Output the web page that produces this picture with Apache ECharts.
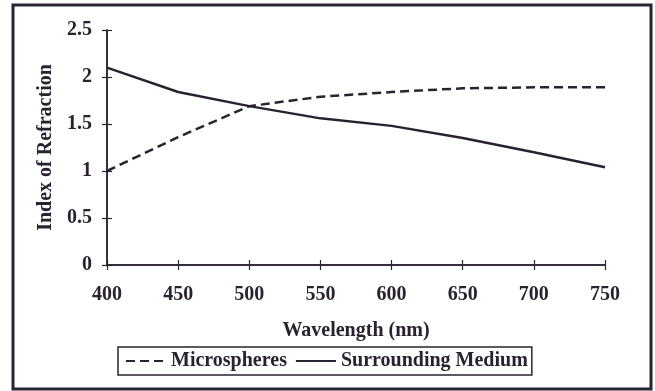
<!DOCTYPE html>
<html lang="en">
<head>
    <meta charset="UTF-8">
    <title>Index of Refraction</title>
    <style>
        html, body {
            margin: 0;
            padding: 0;
            background: #fff;
        }

        #chart1 {
            width: 655px;
            height: 391px;
        }
    </style>
</head>
<body>
<div id="chart1"></div>
<script src="https://cdn.jsdelivr.net/npm/echarts@6/dist/echarts.min.js"></script>
<script type="text/javascript">
    var wavelengths = [400, 450, 500, 550, 600, 650, 700, 750];
    var microspheres = [1.00, 1.36, 1.69, 1.79, 1.84, 1.88, 1.89, 1.89];
    var surroundingMedium = [2.10, 1.84, 1.69, 1.56, 1.48, 1.35, 1.20, 1.04];

    var ink = '#2a2230';
    var font = 'Liberation Serif';

    function pairs(xs, ys) {
        return xs.map(function (x, i) {
            return [x, ys[i]];
        });
    }

    var chart1 = echarts.init(document.getElementById('chart1'));

    // 原图刻度穿过坐标轴，用两个坐标轴叠出内外两段
    var baseX = {
        type: 'value',
        position: 'bottom',
        min: 400,
        max: 750,
        interval: 50,
        splitLine: {show: false},
        axisLine: {lineStyle: {color: ink, width: 1.5}}
    };
    var baseY = {
        type: 'value',
        position: 'left',
        min: 0,
        max: 2.5,
        interval: 0.5,
        splitLine: {show: false},
        axisLine: {lineStyle: {color: ink, width: 1.5}}
    };

    chart1.setOption({
        animation: false,
        textStyle: {fontFamily: font},
        grid: {left: 107, right: 50, top: 30, bottom: 126},
        graphic: [{
            type: 'rect',
            shape: {x: 13, y: 5, width: 638, height: 384},
            style: {fill: 'none', stroke: ink, lineWidth: 3}
        }],
        legend: {
            left: 118,
            top: 347,
            padding: [4, 4, 4, 7],
            itemWidth: 40,
            itemHeight: 20,
            itemGap: 8,
            borderColor: ink,
            borderWidth: 1.5,
            itemStyle: {opacity: 0},
            textStyle: {color: ink, fontFamily: font, fontWeight: 'bold', fontSize: 20},
            data: ['Microspheres', 'Surrounding Medium']
        },
        xAxis: [
            echarts.util.merge({
                name: 'Wavelength (nm)',
                nameLocation: 'middle',
                nameGap: 56,
                nameTextStyle: {color: ink, fontFamily: font, fontWeight: 'bold', fontSize: 20},
                axisTick: {length: 5, lineStyle: {color: ink, width: 1.2}},
                axisLabel: {color: ink, fontFamily: font, fontWeight: 'bold', fontSize: 20, margin: 20}
            }, baseX, true),
            echarts.util.merge({
                axisTick: {inside: true, length: 5, lineStyle: {color: ink, width: 1.2}},
                axisLabel: {show: false}
            }, baseX, true)
        ],
        yAxis: [
            echarts.util.merge({
                name: 'Index of Refraction',
                nameLocation: 'middle',
                nameGap: 44,
                nameTextStyle: {color: ink, fontFamily: font, fontWeight: 'bold', fontSize: 20},
                axisTick: {length: 5, lineStyle: {color: ink, width: 1.2}},
                axisLabel: {color: ink, fontFamily: font, fontWeight: 'bold', fontSize: 20, margin: 15}
            }, baseY, true),
            echarts.util.merge({
                axisTick: {inside: true, length: 5, lineStyle: {color: ink, width: 1.2}},
                axisLabel: {show: false}
            }, baseY, true)
        ],
        series: [{
            name: 'Microspheres',
            type: 'line',
            data: pairs(wavelengths, microspheres),
            symbol: 'none',
            itemStyle: {color: ink},
            lineStyle: {color: ink, width: 2.5, type: [9, 5]}
        }, {
            name: 'Surrounding Medium',
            type: 'line',
            data: pairs(wavelengths, surroundingMedium),
            symbol: 'none',
            itemStyle: {color: ink},
            lineStyle: {color: ink, width: 2.5, type: 'solid'}
        }]
    });
</script>
</body>
</html>
